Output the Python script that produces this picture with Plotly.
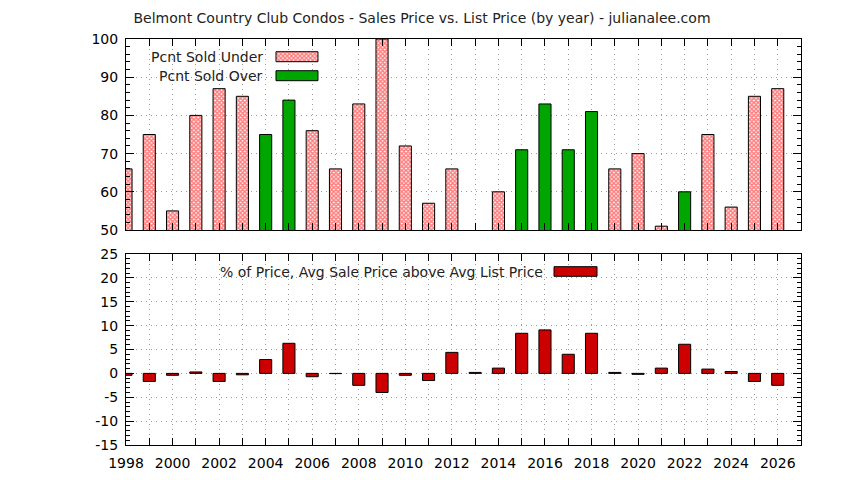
import plotly.graph_objects as go
from plotly.subplots import make_subplots

# chart data
years = list(range(1998, 2027))
pcnt_sold_under = [66, 75, 55, 80, 87, 85, None, None, 76, 66, 83, 100, 72, 57, 66, None, 60,
                   None, None, None, None, 66, 70, 51, None, 75, 56, 85, 87]
pcnt_sold_over = [None, None, None, None, None, None, 75, 84, None, None, None, None, None, None, None, None, None,
                  71, 83, 71, 81, None, None, None, 60, None, None, None, None]
pct_above_list = [-0.4, -1.7, -0.4, 0.3, -1.7, -0.3, 2.9, 6.3, -0.7, -0.05, -2.5, -4.0, -0.4, -1.5, 4.4, 0.2, 1.1,
                  8.4, 9.1, 4.0, 8.4, 0.2, -0.2, 1.1, 6.1, 0.9, 0.4, -1.7, -2.5]
x_labels = [str(y) if y % 2 == 0 else "" for y in years]
pct_ticks = [-15, -10, -5, 0, 5, 10, 15, 20, 25]
pct_labels = ["-15", "-10", "-5", "0", "5", "10", "15", "20", "25"]

FONT = "DejaVu Sans"
RED_PAT = "#ff0000"
GREEN = "#00a600"
DARKRED = "#cc0000"

# page body has an 8px margin, so the figure is a bit smaller than the window
fig = make_subplots(rows=2, cols=1, vertical_spacing=24 / 406)

pat = dict(shape="x", size=3, solidity=0.75, fgcolor=RED_PAT, bgcolor="white")

fig.add_trace(go.Bar(x=years, y=pcnt_sold_under, width=0.52, marker=dict(color="white", pattern=pat,
                     line=dict(color="black", width=1)), name="Pcnt Sold Under", showlegend=False), row=1, col=1)
fig.add_trace(go.Bar(x=years, y=pcnt_sold_over, width=0.52, marker=dict(color=GREEN,
                     line=dict(color="black", width=1)), name="Pcnt Sold Over", showlegend=False), row=1, col=1)
fig.add_trace(go.Bar(x=years, y=pct_above_list, width=0.52, marker=dict(color=DARKRED,
                     line=dict(color="black", width=1)),
                     name="% of Price, Avg Sale Price above Avg List Price", showlegend=False), row=2, col=1)

# gnuplot style keys: text on the left, sample box on the right
def key_box(x0, x1, y0, y1, fill, pattern=None):
    fig.add_trace(go.Scatter(x=[x0, x1, x1, x0, x0], y=[y0, y0, y1, y1, y0], mode="lines", fill="toself",
                             fillcolor=fill, fillpattern=pattern, line=dict(color="black", width=1),
                             xaxis="x3", yaxis="y3", showlegend=False, hoverinfo="skip"))

key_box(0.2222, 0.2844, 0.9441, 0.9687, "white", pat)
key_box(0.2222, 0.2844, 0.8973, 0.9219, GREEN)
key_box(0.6341, 0.6978, 0.4155, 0.4392, DARKRED)

keys = [("Pcnt Sold Under", 0.2059, 0.9564), ("Pcnt Sold Over", 0.2059, 0.9096),
        ("% of Price, Avg Sale Price above Avg List Price", 0.6207, 0.4273)]
for txt, kx, ky in keys:
    fig.add_annotation(text=txt, x=kx, y=ky, xref="paper", yref="paper", xanchor="right", yanchor="middle",
                       showarrow=False, font=dict(family=FONT, size=14, color="#222222"))

axis_common = dict(showline=True, linecolor="black", linewidth=1, mirror="ticks", ticks="inside",
                   tickcolor="black", showgrid=True, gridcolor="#9a9a9a", griddash="1px,4px", gridwidth=1,
                   zeroline=False, automargin=False, tickfont=dict(family=FONT, size=14, color="black"))

fig.update_xaxes(axis_common, range=[1998, 2027], tickvals=years, ticklen=7, ticklabelstandoff=5)
fig.update_xaxes(ticktext=[""] * len(years), row=1, col=1)
fig.update_xaxes(ticktext=x_labels, row=2, col=1)
fig.update_yaxes(axis_common, ticklen=8, ticklabelstandoff=4)
fig.update_yaxes(range=[50, 100], dtick=10, minor=dict(dtick=2, ticks="inside", ticklen=4, tickcolor="black"),
                 row=1, col=1)
fig.update_yaxes(range=[-15, 25], tickvals=pct_ticks, ticktext=pct_labels,
                 minor=dict(dtick=1, ticks="inside", ticklen=4, tickcolor="black"), row=2, col=1)

fig.update_layout(
    width=828, height=464,
    margin=dict(l=118, r=35, t=31, b=27, autoexpand=False),
    barmode="overlay",
    plot_bgcolor="rgba(0,0,0,0)", paper_bgcolor="white",
    font=dict(family=FONT, size=13, color="black"),
    title=dict(text="Belmont Country Club Condos - Sales Price vs. List Price (by year) - julianalee.com",
               x=0.5, xref="container", y=1 - 10 / 464, yref="container", yanchor="middle",
               font=dict(family=FONT, size=14, color="#222222")),
    xaxis3=dict(domain=[0, 1], range=[0, 1], visible=False, anchor="y3"),
    yaxis3=dict(domain=[0, 1], range=[0, 1], visible=False, anchor="x3"),
)

fig.write_html("out.html")
